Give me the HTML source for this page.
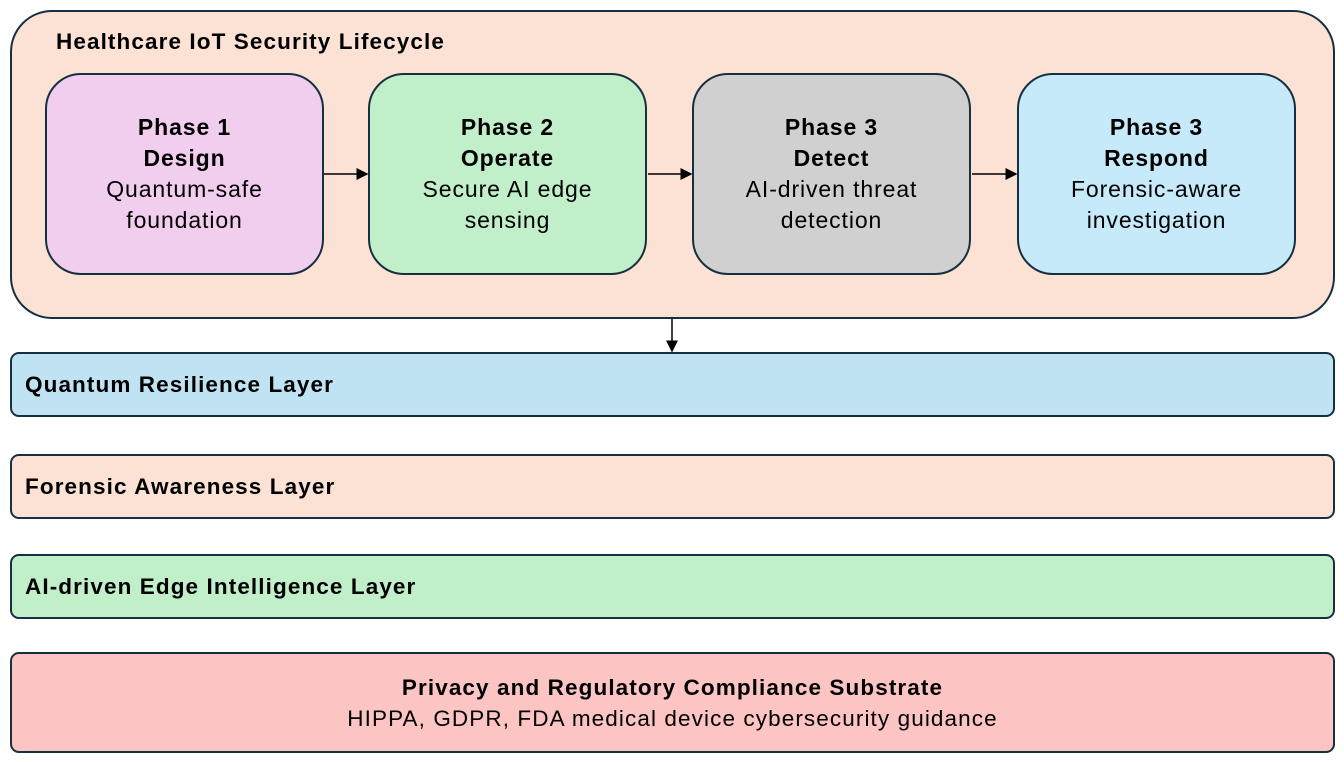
<!DOCTYPE html>
<html><head><style>
body{margin:0;width:1344px;height:762px;background:#fff;font-family:"Liberation Sans",sans-serif;position:relative;overflow:hidden}
.b{position:absolute;box-sizing:border-box;border:2px solid #17303f}
.outer{left:10px;top:10px;width:1325px;height:309px;background:#fbe2d5;border-radius:42px}
.title{position:absolute;left:56px;top:29px;font-weight:bold;font-size:22.5px;letter-spacing:1.1px;color:#000}
.p{top:73px;width:279px;height:202px;border-radius:36px;display:flex;flex-direction:column;justify-content:center;align-items:center;text-align:center;font-size:23px;letter-spacing:0.9px;line-height:31px;color:#000}
.l{left:10px;width:1325px;border-radius:9px;font-size:22.5px;letter-spacing:1.1px;font-weight:bold;padding-left:13px;display:flex;align-items:center}
</style></head><body>
<div class="b outer"></div>
<div class="title">Healthcare IoT Security Lifecycle</div>
<div class="b p" style="left:45px;background:#f1cdee"><b>Phase 1</b><b>Design</b><span>Quantum-safe</span><span>foundation</span></div>
<div class="b p" style="left:368px;background:#c1efca"><b>Phase 2</b><b>Operate</b><span>Secure AI edge</span><span>sensing</span></div>
<div class="b p" style="left:692px;background:#d0d0d0"><b>Phase 3</b><b>Detect</b><span>AI-driven threat</span><span>detection</span></div>
<div class="b p" style="left:1017px;background:#c6eafa"><b>Phase 3</b><b>Respond</b><span>Forensic-aware</span><span>investigation</span></div>
<svg style="position:absolute;left:0;top:0" width="1344" height="762">
<defs><marker id="a" markerWidth="8" markerHeight="8" refX="7" refY="4" orient="auto"><path d="M0,0 L8,4 L0,8z" fill="#000"/></marker></defs>
<g stroke="#000" stroke-width="1.5" marker-end="url(#a)">
<line x1="324" y1="174" x2="367" y2="174"/>
<line x1="648" y1="174" x2="691" y2="174"/>
<line x1="972" y1="174" x2="1016" y2="174"/>
<line x1="672" y1="319" x2="672" y2="351"/>
</g></svg>
<div class="b l" style="top:352px;height:65px;background:#c0e3f4">Quantum Resilience Layer</div>
<div class="b l" style="top:454px;height:65px;background:#fbe2d5">Forensic Awareness Layer</div>
<div class="b l" style="top:554px;height:65px;background:#c1efca">AI-driven Edge Intelligence Layer</div>
<div class="b l" style="top:652px;height:101px;background:#fdc4c4;flex-direction:column;justify-content:center;padding:0;text-align:center;line-height:31px"><span>Privacy and Regulatory Compliance Substrate</span><span style="font-weight:normal">HIPPA, GDPR, FDA medical device cybersecurity guidance</span></div>
</body></html>
